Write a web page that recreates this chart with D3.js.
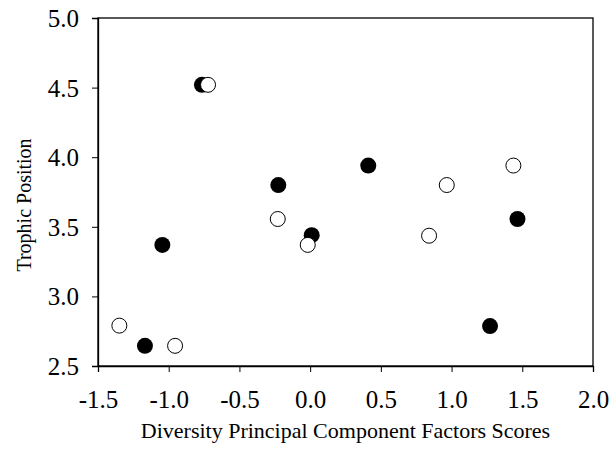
<!DOCTYPE html>
<html>
<head>
<meta charset="utf-8">
<script src="https://cdn.jsdelivr.net/npm/d3@7"></script>
<style>
  body { margin: 0; background: #fff; }
  svg { display: block; }
  text { font-family: "Liberation Serif", "Times New Roman", serif; fill: #000; }
</style>
</head>
<body>
<svg id="chart" width="616" height="455"></svg>
<script>
// Diversity PC factor scores vs. trophic position
const filledX = [-0.765, -0.225, 0.411, -1.045, 0.011, -1.168, 1.272, 1.466];
const filledY = [4.52, 3.80, 3.94, 3.37, 3.44, 2.645, 2.787, 3.556];
const openX = [-0.722, -0.017, -0.229, -1.349, -0.955, 1.437, 0.966, 0.841];
const openY = [4.52, 3.37, 3.556, 2.79, 2.645, 3.94, 3.80, 3.436];
const xTicks = [-1.5, -1.0, -0.5, 0.0, 0.5, 1.0, 1.5, 2.0];
const yTicks = [2.5, 3.0, 3.5, 4.0, 4.5, 5.0];

const svg = d3.select("#chart");
const plotL = 98, plotR = 593, plotT = 18, plotB = 366;

const x = d3.scaleLinear().domain([-1.5, 2.0]).range([plotL, plotR]);
const y = d3.scaleLinear().domain([2.5, 5.0]).range([plotB, plotT]);

// plain hyphen for negatives, one decimal place
const fmt = d => d.toFixed(1);

// frame
svg.append("rect")
  .attr("x", plotL).attr("y", plotT)
  .attr("width", plotR - plotL).attr("height", plotB - plotT)
  .attr("fill", "none").attr("stroke", "#000").attr("stroke-width", 1.3);

const xAxis = svg.append("g")
  .attr("transform", `translate(0,${plotB})`)
  .call(d3.axisBottom(x).tickValues(xTicks).tickFormat(fmt).tickSize(6));
const yAxis = svg.append("g")
  .attr("transform", `translate(${plotL},0)`)
  .call(d3.axisLeft(y).tickValues(yTicks).tickFormat(fmt).tickSize(6).tickPadding(13));

[xAxis, yAxis].forEach(g => {
  g.select(".domain").attr("stroke", "#000").attr("stroke-width", 1.3);
  g.selectAll(".tick line").attr("stroke", "#000").attr("stroke-width", 1);
  g.selectAll(".tick text")
    .style("font-family", '"Liberation Serif", "Times New Roman", serif')
    .style("font-size", "25px").attr("fill", "#000");
});
xAxis.selectAll(".tick text").attr("y", 42).attr("dy", 0);
yAxis.selectAll(".tick text").attr("dy", "0.34em");

// filled series
svg.append("g").selectAll("circle")
  .data(filledX.map((v, i) => [v, filledY[i]]))
  .join("circle")
  .attr("cx", d => x(d[0])).attr("cy", d => y(d[1]))
  .attr("r", 8).attr("fill", "#000");

// open series
svg.append("g").selectAll("circle")
  .data(openX.map((v, i) => [v, openY[i]]))
  .join("circle")
  .attr("cx", d => x(d[0])).attr("cy", d => y(d[1]))
  .attr("r", 7.5).attr("fill", "#fff").attr("stroke", "#000").attr("stroke-width", 1);

// axis titles
svg.append("text")
  .attr("x", (plotL + plotR) / 2).attr("y", 438)
  .attr("text-anchor", "middle")
  .style("font-size", "22px")
  .text("Diversity Principal Component Factors Scores");

svg.append("text")
  .attr("transform", "translate(31,205) rotate(-90)")
  .attr("text-anchor", "middle")
  .style("font-size", "20px")
  .text("Trophic Position");
</script>
</body>
</html>
